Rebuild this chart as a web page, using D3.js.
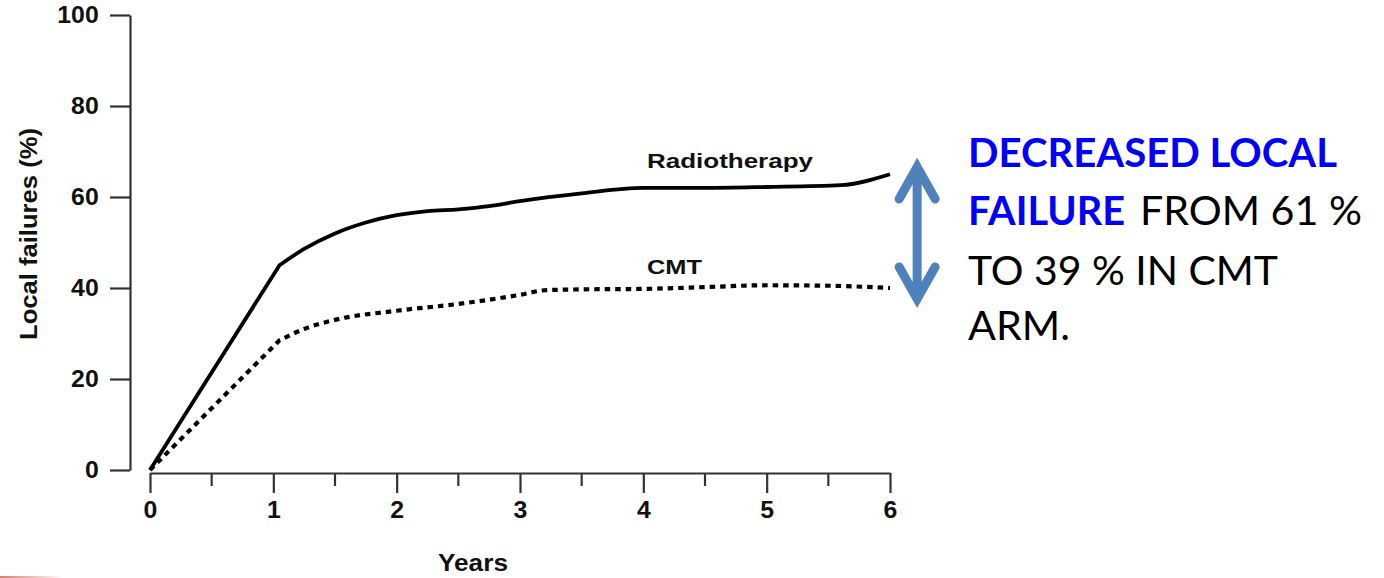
<!DOCTYPE html>
<html>
<head>
<meta charset="utf-8">
<script src="https://cdn.jsdelivr.net/npm/d3@7"></script>
<style>
  html, body { margin: 0; padding: 0; background: #fff; }
  svg { display: block; }
</style>
</head>
<body>
<svg id="chart" width="1384" height="578"></svg>
<script>
// ---- data ----
const years = [0, 1, 2, 3, 4, 5, 6];
const minorYears = [0.5, 1.5, 2.5, 3.5, 4.5, 5.5];
const yTicks = [0, 20, 40, 60, 80, 100];

const radioX = [0, 1.05, 1.25, 1.5, 1.75, 2, 2.25, 2.5, 2.75, 3, 3.5, 4, 4.5, 5, 5.6, 6];
const radioY = [0, 45, 48.6, 52, 54.4, 56, 56.9, 57.3, 58, 59.1, 60.8, 62, 62, 62.2, 62.6, 65];

const cmtX = [0, 1.05, 1.25, 1.5, 2, 2.5, 3, 3.2, 3.5, 4, 4.5, 5, 5.5, 6];
const cmtY = [0, 28.5, 31, 33, 35, 36.5, 38.5, 39.5, 39.7, 39.8, 40.2, 40.6, 40.5, 40];

const seriesLabels = ["Radiotherapy", "CMT"];
const arrowYears = 6.22;
const arrowRange = [66.6, 37.6];

// ---- layout ----
const svg = d3.select("#chart");
const x = d3.scaleLinear().domain([0, 6]).range([150, 890]);
const y = d3.scaleLinear().domain([0, 100]).range([470, 15]);
const sx = 1.08; // horizontal stretch of the source text

// y axis
const yAxis = svg.append("g").attr("transform", "translate(130,0)")
  .call(d3.axisLeft(y).tickValues(yTicks).tickSize(20).tickSizeOuter(0).tickPadding(9));
// x axis
const xAxis = svg.append("g").attr("transform", "translate(0,473)")
  .call(d3.axisBottom(x).tickValues(years).tickFormat(d3.format("d")).tickSize(20).tickSizeOuter(0).tickPadding(9));
// minor ticks
svg.append("g").attr("transform", "translate(0,473)")
  .selectAll("line").data(minorYears).join("line")
  .attr("x1", d => x(d)).attr("x2", d => x(d))
  .attr("y1", 0).attr("y2", 13)
  .attr("stroke", "#333").attr("stroke-width", 2.2);

[yAxis, xAxis].forEach(g => {
  g.attr("font-size", null).attr("font-family", null);
  g.selectAll("path.domain").attr("stroke", "#333").attr("stroke-width", 2.2);
  g.selectAll(".tick line").attr("stroke", "#333").attr("stroke-width", 2.2);
  g.selectAll(".tick text")
    .attr("fill", "#111")
    .style("font-family", "'Liberation Sans', Arial, sans-serif")
    .style("font-weight", "bold")
    .style("font-size", "23px")
    .attr("transform", `scale(${sx},1)`);
});

// lines: straight initial rise to the first knee, smooth afterwards
const lin = d3.line().x(d => x(d[0])).y(d => y(d[1]));
const smooth = d3.line().x(d => x(d[0])).y(d => y(d[1])).curve(d3.curveMonotoneX);
function pathFor(pts) {
  const head = lin(pts.slice(0, 2));
  const tail = smooth(pts.slice(1)).replace(/^M[^CLQ]*/, "");
  return head + tail;
}
const radio = radioX.map((v, i) => [v, radioY[i]]);
const cmt = cmtX.map((v, i) => [v, cmtY[i]]);

svg.append("path").attr("d", pathFor(radio))
  .attr("fill", "none").attr("stroke", "#000").attr("stroke-width", 3.8)
  .attr("stroke-linejoin", "round");
svg.append("path").attr("d", pathFor(cmt))
  .attr("fill", "none").attr("stroke", "#000").attr("stroke-width", 4.2)
  .attr("stroke-dasharray", "5.5,5");

// series labels
const lblFont = "'Liberation Sans', Arial, sans-serif";
svg.append("text").text(seriesLabels[0])
  .attr("x", 647).attr("y", 168).attr("textLength", 166).attr("lengthAdjust", "spacingAndGlyphs")
  .attr("font-family", lblFont).attr("font-weight", "bold").attr("font-size", 21).attr("fill", "#111");
svg.append("text").text(seriesLabels[1])
  .attr("x", 647).attr("y", 274).attr("textLength", 55).attr("lengthAdjust", "spacingAndGlyphs")
  .attr("font-family", lblFont).attr("font-weight", "bold").attr("font-size", 21).attr("fill", "#111");

// axis titles
svg.append("text").text("Years")
  .attr("x", 438).attr("y", 571).attr("textLength", 70).attr("lengthAdjust", "spacingAndGlyphs")
  .attr("font-family", lblFont).attr("font-weight", "bold").attr("font-size", 23).attr("fill", "#111");
svg.append("text").text("Local failures (%)")
  .attr("transform", "translate(37,340) rotate(-90)")
  .attr("textLength", 212).attr("lengthAdjust", "spacingAndGlyphs")
  .attr("font-family", lblFont).attr("font-weight", "bold").attr("font-size", 24).attr("fill", "#111");

// double-headed arrow
const ax = x(arrowYears), yt = y(arrowRange[0]), yb = y(arrowRange[1]);
const wdx = 18, wdy = 32;
const arrowPath = `M${ax},${yt}L${ax},${yb}` +
  `M${ax - wdx},${yt + wdy}L${ax},${yt}L${ax + wdx},${yt + wdy}` +
  `M${ax - wdx},${yb - wdy}L${ax},${yb}L${ax + wdx},${yb - wdy}`;
svg.append("path").attr("d", arrowPath)
  .attr("fill", "none").attr("stroke", "#4f81bd").attr("stroke-width", 9)
  .attr("stroke-linecap", "round").attr("stroke-linejoin", "miter");

// annotation text
const tFont = "Lato, 'Open Sans', sans-serif";
const blue = "#0000ff";
const ann = [
  { t: "DECREASED LOCAL", x: 968, y: 167, w: 369, bold: true, c: blue },
  { t: "FAILURE", x: 968, y: 225, w: 157, bold: true, c: blue },
  { t: "FROM 61 %", x: 1140, y: 225, w: 222, bold: false, c: "#000" },
  { t: "TO 39 % IN CMT", x: 968, y: 285, w: 310, bold: false, c: "#000" },
  { t: "ARM.", x: 968, y: 340, w: 102, bold: false, c: "#000" }
];
svg.append("g").selectAll("text").data(ann).join("text")
  .text(d => d.t)
  .attr("x", d => d.x).attr("y", d => d.y)
  .attr("textLength", d => d.w).attr("lengthAdjust", "spacingAndGlyphs")
  .attr("font-family", tFont).attr("font-size", 40)
  .attr("font-weight", d => d.bold ? "bold" : "normal")
  .attr("fill", d => d.c);

// faint slide artefact bottom-left
const grad = svg.append("defs").append("linearGradient").attr("id", "fade");
grad.append("stop").attr("offset", "0%").attr("stop-color", "#d07060").attr("stop-opacity", 0.9);
grad.append("stop").attr("offset", "100%").attr("stop-color", "#d07060").attr("stop-opacity", 0);
svg.append("rect").attr("x", 0).attr("y", 576).attr("width", 64).attr("height", 2).attr("fill", "url(#fade)");
</script>
</body>
</html>
